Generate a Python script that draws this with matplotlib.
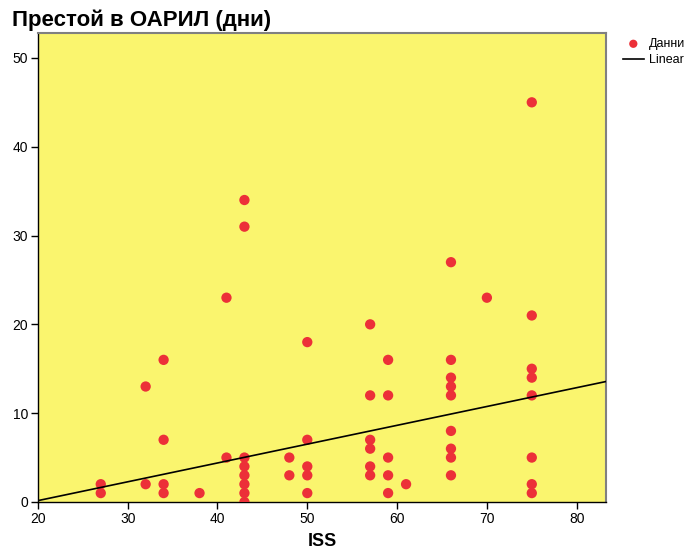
import matplotlib
matplotlib.use("Agg")
import matplotlib.pyplot as plt
import numpy as np

plt.rcParams["font.family"] = ["Liberation Sans", "DejaVu Sans"]

# ISS score and days in ICU (ОАРИЛ)
iss = [27, 27, 32, 32, 34, 34, 34, 34, 38, 41, 41,
       43, 43, 43, 43, 43, 43, 43, 43, 48, 48,
       50, 50, 50, 50, 50,
       57, 57, 57, 57, 57, 57,
       59, 59, 59, 59, 59, 61,
       66, 66, 66, 66, 66, 66, 66, 66, 66, 70,
       75, 75, 75, 75, 75, 75, 75, 75]
days = [2, 1, 13, 2, 16, 7, 2, 1, 1, 23, 5,
        34, 31, 5, 4, 3, 2, 1, 0, 5, 3,
        18, 7, 4, 3, 1,
        20, 12, 7, 6, 4, 3,
        16, 12, 5, 3, 1, 2,
        27, 16, 14, 13, 12, 8, 6, 5, 3, 23,
        45, 21, 15, 14, 12, 5, 2, 1]

# linear fit as drawn in the reference
fit_intercept = -4.09
fit_slope = 0.212

fig = plt.figure(figsize=(6.89, 5.51), dpi=100)
ax = fig.add_axes([0.055, 0.089, 0.825, 0.851])
ax.set_facecolor("#faf56e")

ax.scatter(iss, days, s=55, color="#ec3038", edgecolors="none",
           zorder=3, clip_on=True, label="Данни")

xl = np.array([20, 83.3])
ax.plot(xl, fit_intercept + fit_slope * xl, color="black", lw=1.2,
        zorder=4, label="Linear")

ax.set_xlim(20, 83.3)
ax.set_ylim(0, 52.8)
ax.set_xticks(range(20, 81, 10))
ax.set_yticks(range(0, 51, 10))
ax.tick_params(direction="out", length=5, width=1, labelsize=10,
               colors="black", pad=2)

for side in ["left", "bottom"]:
    ax.spines[side].set_color("black")
    ax.spines[side].set_linewidth(1)
for side in ["top", "right"]:
    ax.spines[side].set_color("#808080")
    ax.spines[side].set_linewidth(1.5)

ax.set_xlabel("ISS", fontsize=13, fontweight="bold", labelpad=5)
fig.text(0.017, 0.963, "Престой в ОАРИЛ (дни)", fontsize=16,
         fontweight="bold", ha="left", va="center")

ax.legend(loc="upper left", bbox_to_anchor=(1.02, 1.0), frameon=False,
          fontsize=9, handlelength=1.7, handletextpad=0.4,
          borderaxespad=0, labelspacing=0.35, markerscale=0.8)

fig.savefig("out.png", dpi=100)
